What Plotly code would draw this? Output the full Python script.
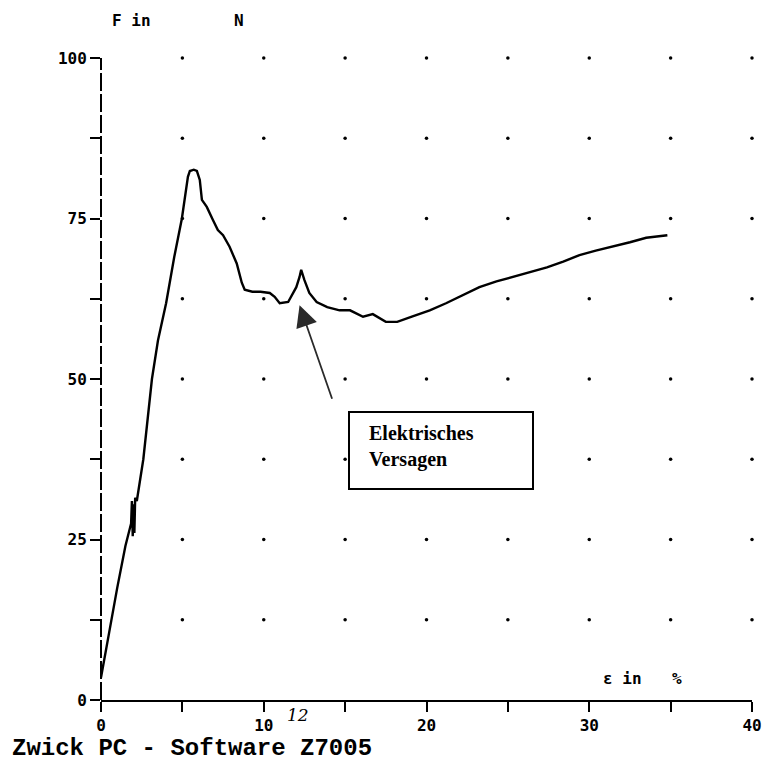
import numpy as np
import plotly.graph_objects as go

# ---- data ----
strain = [0, 0.1, 0.5, 1.0, 1.5, 1.85, 1.9, 1.95, 2.0, 2.05, 2.1, 2.2, 2.6, 3.13, 3.5,
          4.0, 4.5, 4.97, 5.34, 5.46, 5.7, 5.89, 6.07, 6.2, 6.5, 6.87, 7.18, 7.5, 7.9,
          8.34, 8.65, 8.83, 9.3, 9.8, 10.37, 10.67, 10.98, 11.5, 11.8, 12.0, 12.2, 12.3,
          12.5, 12.8, 13.25, 13.9, 14.66, 15.3, 16.1, 16.7, 17.5, 18.2, 19.1, 20.2, 21.2,
          22.2, 23.25, 24.3, 25.3, 26.4, 27.4, 28.4, 29.4, 30.4, 31.4, 32.5, 33.5, 34.1, 34.8]
force = [3.5, 5, 10.5, 17.5, 24, 27.5, 31, 25.5, 30.5, 26, 31.5, 31, 37.5, 50, 56,
         61.8, 69, 75, 81.5, 82.4, 82.6, 82.4, 81, 77.9, 76.8, 74.8, 73.2, 72.4, 70.6,
         68, 65, 63.9, 63.6, 63.6, 63.4, 62.8, 61.8, 62, 63.4, 64.3, 65.9, 67,
         65.4, 63.4, 62, 61.2, 60.7, 60.7, 59.7, 60.1, 58.9, 58.9, 59.7, 60.7, 61.8,
         63, 64.3, 65.2, 65.9, 66.7, 67.4, 68.3, 69.3, 70, 70.6, 71.3, 72, 72.2, 72.4]

x_tickvals = [0, 5, 10, 15, 20, 25, 30, 35, 40]
x_ticktext = ["0", "", "10", "", "20", "", "30", "", "40"]
y_tickvals = [0, 12.5, 25, 37.5, 50, 62.5, 75, 87.5, 100]
y_ticktext = ["0", "", "25", "", "50", "", "75", "", "100"]

grid_x = [5, 10, 15, 20, 25, 30, 35, 40]
grid_y = [12.5, 25, 37.5, 50, 62.5, 75, 87.5, 100]

# ---- layout helpers (screen pixel -> paper); body margin removed in page ----
W, H = 763, 764
L, R, T, B = 101, 752, 58, 700
def px(x):
    return (x - L) / (R - L)
def py(y):
    return (B - y) / (B - T)

gx, gy = np.meshgrid(grid_x, grid_y)

fig = go.Figure()
fig.add_trace(go.Scatter(x=gx.ravel(), y=gy.ravel(), mode="markers",
                         marker=dict(size=3.5, color="black"), hoverinfo="skip",
                         showlegend=False, cliponaxis=False))
fig.add_trace(go.Scatter(x=strain, y=force, mode="lines",
                         line=dict(color="black", width=2.4), showlegend=False,
                         cliponaxis=False))

tickfont = dict(family="DejaVu Sans Mono", size=16, color="black", weight="bold")
lblfont = dict(family="DejaVu Sans Mono", size=16, color="black", weight="bold")

fig.update_layout(
    width=W, height=H, autosize=False,
    margin=dict(l=L, r=W - R, t=T, b=H - B, autoexpand=False),
    paper_bgcolor="white", plot_bgcolor="white",
    xaxis=dict(range=[0, 40], tickmode="array", tickvals=x_tickvals, ticktext=x_ticktext,
               ticks="outside", ticklen=10, tickwidth=2, tickcolor="black",
               showgrid=False, zeroline=False, showline=True, linecolor="black",
               linewidth=2, tickfont=tickfont, ticklabeloverflow="allow",
               automargin=False),
    yaxis=dict(range=[0, 100], tickmode="array", tickvals=y_tickvals, ticktext=y_ticktext,
               ticks="outside", ticklen=10, tickwidth=2, tickcolor="black",
               showgrid=False, zeroline=False, showline=False, tickfont=tickfont,
               ticklabeloverflow="allow", automargin=False),
    shapes=[
        dict(type="line", xref="paper", yref="paper", x0=0, x1=0, y0=0, y1=1,
             line=dict(color="black", width=2, dash="18px,3px")),
        dict(type="rect", xref="paper", yref="paper", x0=px(349), x1=px(533),
             y0=py(489), y1=py(412), line=dict(color="black", width=2),
             fillcolor="white", layer="above"),
    ],
    annotations=[
        dict(text="F in", xref="paper", yref="paper", x=px(110), y=py(20),
             xanchor="left", yanchor="middle", showarrow=False, font=lblfont),
        dict(text="N", xref="paper", yref="paper", x=px(232), y=py(20),
             xanchor="left", yanchor="middle", showarrow=False, font=lblfont),
        dict(text="ε in", xref="paper", yref="paper", x=px(601), y=py(678),
             xanchor="left", yanchor="middle", showarrow=False, font=lblfont),
        dict(text="%", xref="paper", yref="paper", x=px(670), y=py(678),
             xanchor="left", yanchor="middle", showarrow=False, font=lblfont),
        dict(text="12", xref="paper", yref="paper", x=px(298), y=py(715),
             xanchor="center", yanchor="middle", showarrow=False,
             font=dict(family="DejaVu Serif", size=17, color="black", style="italic")),
        dict(text="Zwick PC - Software Z7005", xref="paper", yref="paper",
             x=px(10), y=py(748), xanchor="left", yanchor="middle", showarrow=False,
             font=dict(family="Liberation Mono", size=24, color="black", weight="bold")),
        dict(text="Elektrisches<br>Versagen", xref="paper", yref="paper",
             x=px(367), y=py(420), xanchor="left", yanchor="top", align="left",
             showarrow=False,
             font=dict(family="Liberation Serif", size=20, color="black", weight="bold")),
        dict(text="", x=12.2, y=61.5, ax=14.23, ay=46.7, axref="x", ayref="y",
             xref="x", yref="y", showarrow=True, arrowhead=2, arrowsize=2.4,
             arrowwidth=1.8, arrowcolor="#2a2a2a", standoff=0),
    ],
)

post = "document.body.style.margin='0';document.body.style.overflow='hidden';"
fig.write_html("out.html", config={"displayModeBar": False}, post_script=post)
